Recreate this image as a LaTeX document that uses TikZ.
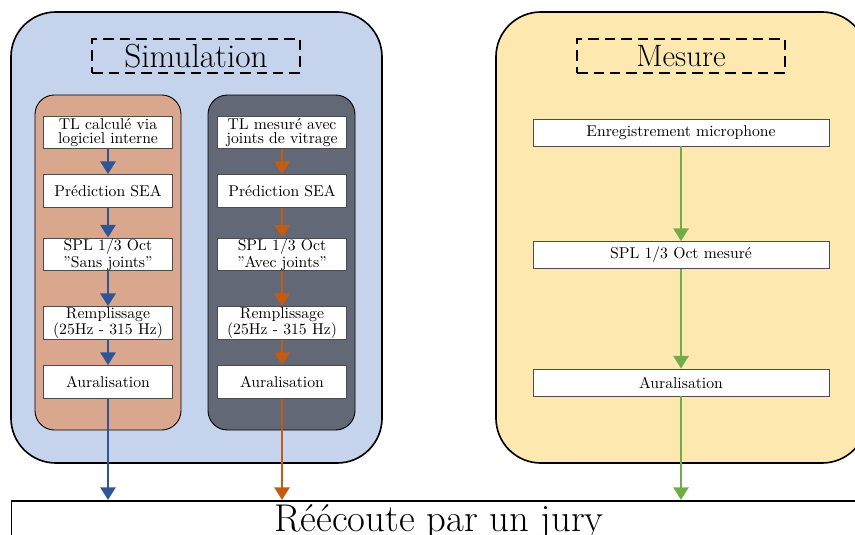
\documentclass[tikz,border=0pt]{standalone}
\usepackage{fontspec}
\usetikzlibrary{arrows.meta}

\definecolor{bleuclair}{HTML}{C5D3EC}
\definecolor{saumon}{HTML}{D9A78D}
\definecolor{ardoise}{HTML}{636876}
\definecolor{jaunepale}{HTML}{FDE9B0}
\definecolor{bleufleche}{HTML}{2F5597}
\definecolor{orangefleche}{HTML}{C55A11}
\definecolor{vertfleche}{HTML}{70AD47}

\begin{document}
\begin{tikzpicture}[
  x=0.02352cm, y=-0.02352cm,
  font=\fontsize{10.5}{9.2}\selectfont,
  cadre/.style={draw=black, line width=1.1pt, rounded corners=30pt},
  colonne/.style={draw=black, line width=0.6pt, rounded corners=13pt},
  titre/.style={draw=black, line width=1.3pt, dash pattern=on 7pt off 4pt,
                minimum width=139pt, minimum height=22.5pt, inner sep=0pt},
  etape/.style={draw=black!70, fill=white, line width=0.6pt, align=center,
                minimum width=86pt, minimum height=22pt, inner sep=0pt},
  etapelarge/.style={etape, minimum width=198pt, minimum height=18pt},
  fleche/.style={line width=2pt, -{Triangle[width=10pt,length=8.5pt]}}
]
\useasboundingbox (0,0) rectangle (855,535);
\clip (0,0) rectangle (855,535);

%--------------------------------------------------------------
% Cadres principaux
%--------------------------------------------------------------
\draw[cadre, fill=bleuclair] (11,12) rectangle (382,463);
\draw[cadre, fill=jaunepale] (496,12) rectangle (867,463);

\draw[colonne, fill=saumon]  (35,95) rectangle (181,430);
\draw[colonne, fill=ardoise] (208,95) rectangle (355,430);

%--------------------------------------------------------------
% Titres
%--------------------------------------------------------------
\node[titre, font=\fontsize{22.3}{24}\selectfont] (simu) at (196,56) {Simulation};
\node[titre, font=\fontsize{20.7}{24}\selectfont] (mesu) at (681,56) {Mesure};

%--------------------------------------------------------------
% Simulation : TL calcule
%--------------------------------------------------------------
\node[etape] (g1) at (108,132.5) {TL calculé via\\ logiciel interne};
\node[etape] (g2) at (108,191)   {Prédiction SEA};
\node[etape] (g3) at (108,254.5) {SPL 1/3 Oct\\ ”Sans joints”};
\node[etape] (g4) at (108,323)   {Remplissage\\ (25Hz - 315 Hz)};
\node[etape] (g5) at (108,382)   {Auralisation};

%--------------------------------------------------------------
% Simulation : TL mesure
%--------------------------------------------------------------
\node[etape] (d1) at (282,132.5) {TL mesuré avec\\ joints de vitrage};
\node[etape] (d2) at (282,191)   {Prédiction SEA};
\node[etape] (d3) at (282,254.5) {SPL 1/3 Oct\\ ”Avec joints”};
\node[etape] (d4) at (282,323)   {Remplissage\\ (25Hz - 315 Hz)};
\node[etape] (d5) at (282,382)   {Auralisation};

%--------------------------------------------------------------
% Mesure
%--------------------------------------------------------------
\node[etapelarge] (m1) at (681,132.5) {Enregistrement microphone};
\node[etapelarge] (m2) at (681,255)   {SPL 1/3 Oct mesuré};
\node[etapelarge] (m3) at (681,382.5) {Auralisation};

%--------------------------------------------------------------
% Reecoute
%--------------------------------------------------------------
\node[draw=black, line width=1.3pt, anchor=north, inner sep=0pt,
      minimum width=572pt, minimum height=28pt,
      font=\fontsize{25.9}{28}\selectfont] (jury) at (439,500)
  {Réécoute par un jury};

%--------------------------------------------------------------
% Fleches
%--------------------------------------------------------------
\foreach \a/\b in {g1/g2, g2/g3, g3/g4, g4/g5}
  \draw[fleche, bleufleche] (\a.south) -- (\b.north);
\foreach \a/\b in {d1/d2, d2/d3, d3/d4, d4/d5}
  \draw[fleche, orangefleche] (\a.south) -- (\b.north);
\foreach \a/\b in {m1/m2, m2/m3}
  \draw[fleche, vertfleche] (\a.south) -- (\b.north);

\draw[fleche, bleufleche]   (g5.south) -- (g5.south |- jury.north);
\draw[fleche, orangefleche] (d5.south) -- (d5.south |- jury.north);
\draw[fleche, vertfleche]   (m3.south) -- (m3.south |- jury.north);

\end{tikzpicture}
\end{document}
